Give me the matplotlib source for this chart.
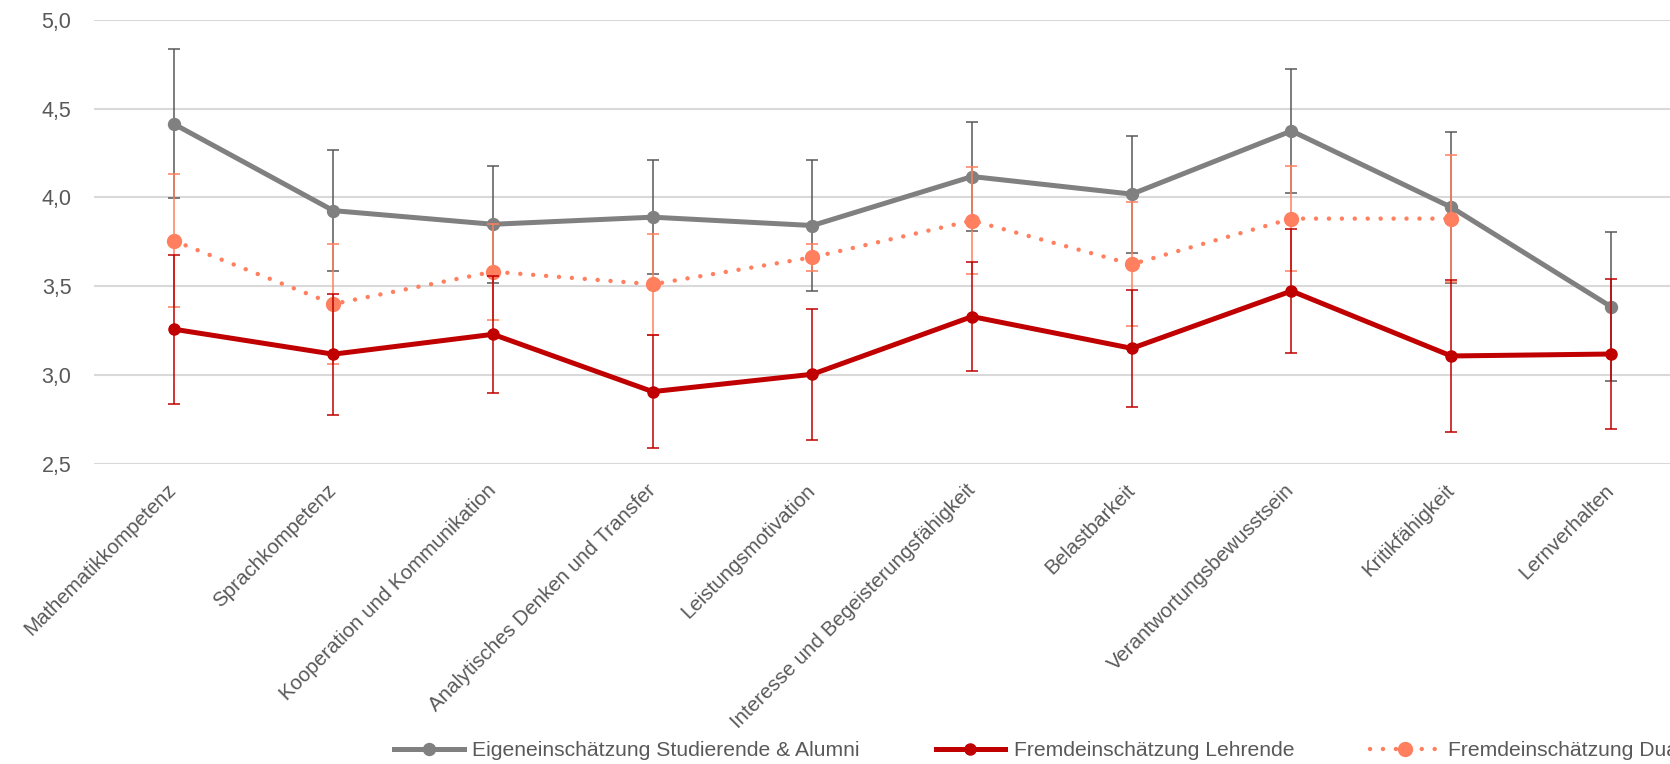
import matplotlib.pyplot as plt
import numpy as np

plt.rcParams['font.family'] = ['Liberation Sans', 'DejaVu Sans']

kategorien = ["Mathematikkompetenz", "Sprachkompetenz", "Kooperation und Kommunikation",
              "Analytisches Denken und Transfer", "Leistungsmotivation",
              "Interesse und Begeisterungsfähigkeit", "Belastbarkeit",
              "Verantwortungsbewusstsein", "Kritikfähigkeit", "Lernverhalten"]

eigen = [4.415, 3.926, 3.849, 3.889, 3.842, 4.118, 4.019, 4.375, 3.945, 3.385]
eigen_sd = [0.42, 0.34, 0.33, 0.32, 0.37, 0.305, 0.33, 0.35, 0.425, 0.42]

lehrende = [3.258, 3.117, 3.229, 2.906, 3.004, 3.329, 3.150, 3.473, 3.107, 3.118]
lehrende_sd = [0.42, 0.34, 0.33, 0.32, 0.37, 0.305, 0.33, 0.35, 0.43, 0.42]

dual = [3.757, 3.400, 3.582, 3.511, 3.663, 3.870, 3.624, 3.881, 3.881, np.nan]
dual_sd = [0.375, 0.337, 0.27, 0.285, 0.075, 0.30, 0.35, 0.295, 0.356, np.nan]

labels = ["Eigeneinschätzung Studierende & Alumni", "Fremdeinschätzung Lehrende",
          "Fremdeinschätzung Dualer Partner"]

grau, rot, lachs = "#808080", "#C00000", "#FF7F5F"
textfarbe = "#595959"

fig = plt.figure(figsize=(16.7, 7.64), dpi=100)
ax = fig.add_axes([93.7 / 1670, 1 - 463.7 / 764, 1 - 93.7 / 1670, (463.7 - 20) / 764])

x = np.arange(len(kategorien))

# Eigeneinschätzung
ax.errorbar(x, eigen, yerr=eigen_sd, fmt="none", ecolor="#595959", elinewidth=1.1,
            capsize=4.1, capthick=1.1, zorder=2)
l1, = ax.plot(x, eigen, color=grau, lw=3.6, marker="o", ms=8.6, zorder=3, label=labels[0])

# Dual
ax.errorbar(x, dual, yerr=dual_sd, fmt="none", ecolor=lachs, elinewidth=1.1,
            capsize=4.1, capthick=1.1, zorder=4)
l3, = ax.plot(x, dual, color=lachs, lw=3.2, ls=(0, (0.01, 2.9)), dash_capstyle="round",
              marker="o", ms=10, zorder=5, label=labels[2])

# Lehrende
ax.errorbar(x, lehrende, yerr=lehrende_sd, fmt="none", ecolor=rot, elinewidth=1.1,
            capsize=4.1, capthick=1.1, zorder=6)
l2, = ax.plot(x, lehrende, color=rot, lw=3.6, marker="o", ms=8, zorder=7, label=labels[1])

ax.set_xlim(-0.5, 9.37)
ax.set_ylim(2.5, 5.0)
ax.set_yticks([2.5, 3.0, 3.5, 4.0, 4.5, 5.0])
ax.set_yticklabels(["2,5", "3,0", "3,5", "4,0", "4,5", "5,0"])
ax.set_xticks(x)
ax.set_xticklabels(kategorien, rotation=45, ha="right", va="center", rotation_mode="anchor")
ax.tick_params(axis="y", length=0, pad=16, labelsize=15.5, labelcolor=textfarbe)
ax.tick_params(axis="x", length=0, pad=17, labelsize=14.8, labelcolor=textfarbe)
ax.grid(axis="y", color="#D9D9D9", lw=1.5)
ax.set_axisbelow(True)
for s in ax.spines.values():
    s.set_visible(False)

fig.legend(handles=[l1, l2, l3], loc="center left", bbox_to_anchor=(394 / 1670, 1 - 751 / 764),
           ncol=3, frameon=False, fontsize=15.2, labelcolor=textfarbe, borderpad=0,
           handlelength=3.3, handletextpad=0.4, columnspacing=3.6, borderaxespad=0)

fig.savefig("out.png", dpi=100)
